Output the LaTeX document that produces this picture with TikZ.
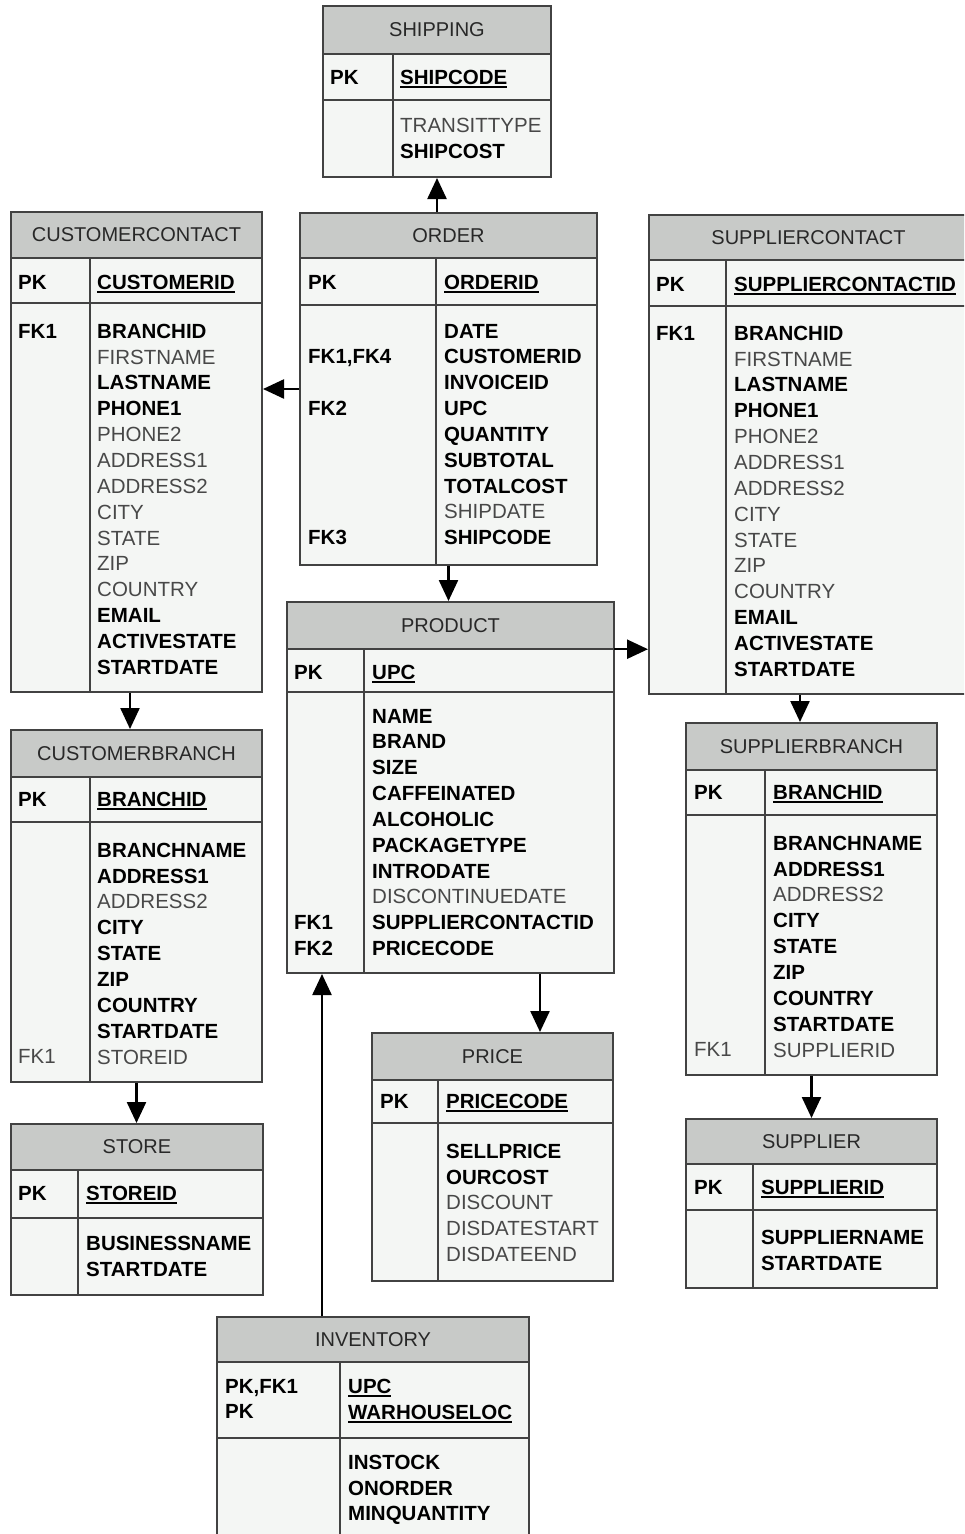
\documentclass[tikz,border=0pt]{standalone}
\usepackage{fontspec}
\setmainfont{Liberation Sans}
\usetikzlibrary{arrows.meta,fit,calc}
\definecolor{hdfill}{RGB}{200,202,200}
\definecolor{bdfill}{RGB}{244,246,244}
\definecolor{linec}{RGB}{66,66,66}
\definecolor{regtext}{RGB}{72,72,72}
\definecolor{hdtext}{RGB}{40,40,40}
\newsavebox{\ubox}
\newcommand{\B}[1]{{\bfseries\color{black}#1}}
\newcommand{\R}[1]{{\color{regtext}#1}}
\newcommand{\U}[1]{\sbox{\ubox}{\bfseries\color{black}#1}\rlap{\color{black}\rule[-3.5pt]{\wd\ubox}{1.8pt}}\usebox{\ubox}}
\newcommand{\E}{\vphantom{A}}
% name, x1, x2, ytop, yhead, ypk, ybot, xdiv, title
\newcommand{\ertab}[9]{%
  \fill[bdfill] (#2,#5) rectangle (#3,#7);
  \fill[hdfill] (#2,#4) rectangle (#3,#5);
  \draw[tline] (#8,#5) -- (#8,#7);
  \draw[tline] (#2,#6) -- (#3,#6);
  \draw[tline] (#2,#5) -- (#3,#5);
  \node[fit={(#2,#4) (#3,#5)}, inner sep=0pt] (#1-h) {};
  \node[ttl] (#1-t) at (#1-h.center) {#9};
  \node[fit={(#2,#4) (#3,#7)}, inner sep=0pt, draw=linec, line width=2pt] (#1) {};
}
% name, xleft, xright, y centre of first line, left text, right text
\newcommand{\cols}[6]{%
  \node[lbl] (#1-l) at (#2,{#4-7.3}) {#5};
  \node[lbl] (#1-r) at (#3,{#4-7.3}) {#6};
}
\begin{document}
\begin{tikzpicture}[x=1pt,y=-1pt,
  tline/.style={draw=linec, line width=2pt},
  ttl/.style={font=\fontsize{20}{26}\selectfont, text=hdtext, inner sep=0pt},
  lbl/.style={font=\fontsize{20.5}{25.85}\selectfont, inner sep=0pt, align=left, anchor=north west},
  arr/.style={draw=black, line width=2.4pt, -{Triangle[width=19pt,length=21pt]}}]
\useasboundingbox (0,0) rectangle (964,1534);
\clip (0,0) rectangle (964,1534);
\fill[white] (0,0) rectangle (964,1534);

% SHIPPING
\ertab{shipping}{323}{551}{6}{54}{100}{177}{393}{SHIPPING}
\cols{shipping-pk}{330}{400}{77}{\B{PK}}{\U{SHIPCODE}}
\cols{shipping-b}{330}{400}{125}{\E}{\R{TRANSITTYPE}\\\B{SHIPCOST}}

% ORDER
\ertab{order}{300}{597}{213}{258}{305}{565}{436}{ORDER}
\cols{order-pk}{308}{444}{282}{\B{PK}}{\U{ORDERID}}
\cols{order-b}{308}{444}{331}{\E\\\B{FK1,FK4}\\\E\\\B{FK2}\\\E\\\E\\\E\\\E\\\B{FK3}}%
  {\B{DATE}\\\B{CUSTOMERID}\\\B{INVOICEID}\\\B{UPC}\\\B{QUANTITY}\\\B{SUBTOTAL}\\\B{TOTALCOST}\\\R{SHIPDATE}\\\B{SHIPCODE}}

% CUSTOMERCONTACT
\ertab{cc}{11}{262}{212}{258}{303}{692}{90}{CUSTOMERCONTACT}
\cols{cc-pk}{18}{97}{282}{\B{PK}}{\U{CUSTOMERID}}
\cols{cc-b}{18}{97}{331}{\B{FK1}}%
  {\B{BRANCHID}\\\R{FIRSTNAME}\\\B{LASTNAME}\\\B{PHONE1}\\\R{PHONE2}\\\R{ADDRESS1}\\\R{ADDRESS2}\\\R{CITY}\\\R{STATE}\\\R{ZIP}\\\R{COUNTRY}\\\B{EMAIL}\\\B{ACTIVESTATE}\\\B{STARTDATE}}

% SUPPLIERCONTACT
\ertab{sc}{649}{968}{215}{260}{306}{694}{726}{SUPPLIERCONTACT}
\cols{sc-pk}{656}{734}{284}{\B{PK}}{\U{SUPPLIERCONTACTID}}
\cols{sc-b}{656}{734}{333}{\B{FK1}}%
  {\B{BRANCHID}\\\R{FIRSTNAME}\\\B{LASTNAME}\\\B{PHONE1}\\\R{PHONE2}\\\R{ADDRESS1}\\\R{ADDRESS2}\\\R{CITY}\\\R{STATE}\\\R{ZIP}\\\R{COUNTRY}\\\B{EMAIL}\\\B{ACTIVESTATE}\\\B{STARTDATE}}

% PRODUCT
\ertab{product}{287}{614}{602}{649}{692}{973}{364}{PRODUCT}
\cols{product-pk}{294}{372}{672}{\B{PK}}{\U{UPC}}
\cols{product-b}{294}{372}{716}{\E\\\E\\\E\\\E\\\E\\\E\\\E\\\E\\\B{FK1}\\\B{FK2}}%
  {\B{NAME}\\\B{BRAND}\\\B{SIZE}\\\B{CAFFEINATED}\\\B{ALCOHOLIC}\\\B{PACKAGETYPE}\\\B{INTRODATE}\\\R{DISCONTINUEDATE}\\\B{SUPPLIERCONTACTID}\\\B{PRICECODE}}

% CUSTOMERBRANCH
\ertab{cb}{11}{262}{730}{777}{822}{1082}{90}{CUSTOMERBRANCH}
\cols{cb-pk}{18}{97}{799}{\B{PK}}{\U{BRANCHID}}
\cols{cb-b}{18}{97}{850}{\E\\\E\\\E\\\E\\\E\\\E\\\E\\\E\\\R{FK1}}%
  {\B{BRANCHNAME}\\\B{ADDRESS1}\\\R{ADDRESS2}\\\B{CITY}\\\B{STATE}\\\B{ZIP}\\\B{COUNTRY}\\\B{STARTDATE}\\\R{STOREID}}

% SUPPLIERBRANCH
\ertab{sb}{686}{937}{723}{770}{815}{1075}{765}{SUPPLIERBRANCH}
\cols{sb-pk}{694}{773}{792}{\B{PK}}{\U{BRANCHID}}
\cols{sb-b}{694}{773}{843}{\E\\\E\\\E\\\E\\\E\\\E\\\E\\\E\\\R{FK1}}%
  {\B{BRANCHNAME}\\\B{ADDRESS1}\\\R{ADDRESS2}\\\B{CITY}\\\B{STATE}\\\B{ZIP}\\\B{COUNTRY}\\\B{STARTDATE}\\\R{SUPPLIERID}}

% PRICE
\ertab{price}{372}{613}{1033}{1080}{1123}{1281}{438}{PRICE}
\cols{price-pk}{380}{446}{1101}{\B{PK}}{\U{PRICECODE}}
\cols{price-b}{380}{446}{1151}{\E}%
  {\B{SELLPRICE}\\\B{OURCOST}\\\R{DISCOUNT}\\\R{DISDATESTART}\\\R{DISDATEEND}}

% STORE
\ertab{store}{11}{263}{1124}{1170}{1218}{1295}{78}{STORE}
\cols{store-pk}{18}{86}{1193}{\B{PK}}{\U{STOREID}}
\cols{store-b}{18}{86}{1243}{\E}{\B{BUSINESSNAME}\\\B{STARTDATE}}

% SUPPLIER
\ertab{supplier}{686}{937}{1119}{1164}{1210}{1288}{753}{SUPPLIER}
\cols{supplier-pk}{694}{761}{1187}{\B{PK}}{\U{SUPPLIERID}}
\cols{supplier-b}{694}{761}{1237}{\E}{\B{SUPPLIERNAME}\\\B{STARTDATE}}

% INVENTORY
\ertab{inventory}{217}{529}{1317}{1362}{1438}{1560}{340}{INVENTORY}
\cols{inventory-pk}{225}{348}{1386}{\B{PK,FK1}\\\B{PK}}{\U{UPC}\\\U{WARHOUSELOC}}
\cols{inventory-b}{225}{348}{1462}{\E}{\B{INSTOCK}\\\B{ONORDER}\\\B{MINQUANTITY}}

% connectors
\draw[arr] (shipping.south |- order.north) -- (shipping.south);
\draw[arr] (order.west) -- (order.west -| cc.east);
\draw[arr] (order.south) -- (order.south |- product.north);
\draw[arr] (product-h.south east) -- (product-h.south east -| sc.west);
\draw[arr] ([xshift=-6.5pt]cc.south) -- ([xshift=-6.5pt]cc.south |- cb.north);
\draw[arr] ([xshift=-11.5pt]sb.north |- sc.south) -- ([xshift=-11.5pt]sb.north);
\draw[arr] (cb.south) -- (cb.south |- store.north);
\draw[arr] (sb.south) -- (sb.south |- supplier.north);
\draw[arr] ([xshift=89.5pt]product.south) -- ([xshift=89.5pt]product.south |- price.north);
\draw[arr] ([xshift=-51pt]inventory.north) -- ([xshift=-51pt]inventory.north |- product.south);
\end{tikzpicture}
\end{document}
